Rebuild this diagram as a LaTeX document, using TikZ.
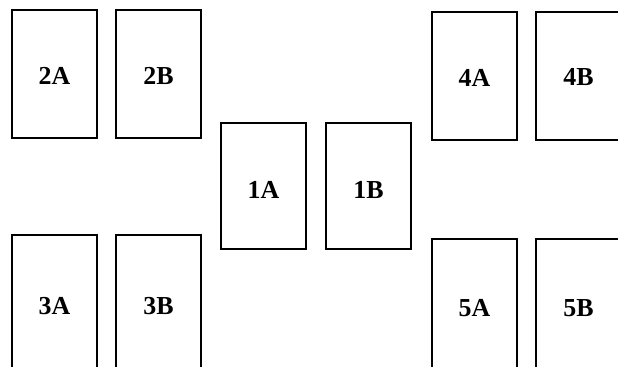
\documentclass[tikz,border=0pt]{standalone}
\usepackage{fontspec}
\setmainfont{Liberation Serif}
\begin{document}
\begin{tikzpicture}[x=1bp,y=-1bp,
  seat/.style={draw=black,line width=2bp,rectangle,minimum width=85bp,inner sep=0pt},
  tall/.style={seat,minimum height=128bp},
  open/.style={seat,minimum height=150bp},
  lbl/.style={font=\fontsize{26}{26}\selectfont\bfseries,inner sep=0pt}]
\useasboundingbox (0,0) rectangle (618,366);
\clip (0,0) rectangle (618,366);
% top row
\node[tall] (b2A) at (54.5,74) {};
\node[tall] (b2B) at (158.5,74) {};
\node[tall] (b4A) at (474.5,75.5) {};
\node[tall] (b4B) at (578.5,75.5) {};
% middle
\node[seat,minimum height=126bp] (b1A) at (263.5,186) {};
\node[seat,minimum height=126bp] (b1B) at (368.5,186) {};
% bottom row (cut off by the lower edge)
\node[open] (b3A) at (54.5,310) {};
\node[open] (b3B) at (158.5,310) {};
\node[open] (b5A) at (474.5,314) {};
\node[open] (b5B) at (578.5,314) {};
% labels
\node[lbl] (t2A) at ([yshift=-67bp]b2A.north) {2A};
\node[lbl] (t2B) at ([yshift=-67bp]b2B.north) {2B};
\node[lbl] (t4A) at ([yshift=-67bp]b4A.north) {4A};
\node[lbl] (t4B) at ([yshift=-67bp]b4B.north) {4B};
\node[lbl] (t1A) at ([yshift=-68bp]b1A.north) {1A};
\node[lbl] (t1B) at ([yshift=-68bp]b1B.north) {1B};
\node[lbl] (t3A) at ([yshift=-72bp]b3A.north) {3A};
\node[lbl] (t3B) at ([yshift=-72bp]b3B.north) {3B};
\node[lbl] (t5A) at ([yshift=-70bp]b5A.north) {5A};
\node[lbl] (t5B) at ([yshift=-70bp]b5B.north) {5B};
\end{tikzpicture}
\end{document}
